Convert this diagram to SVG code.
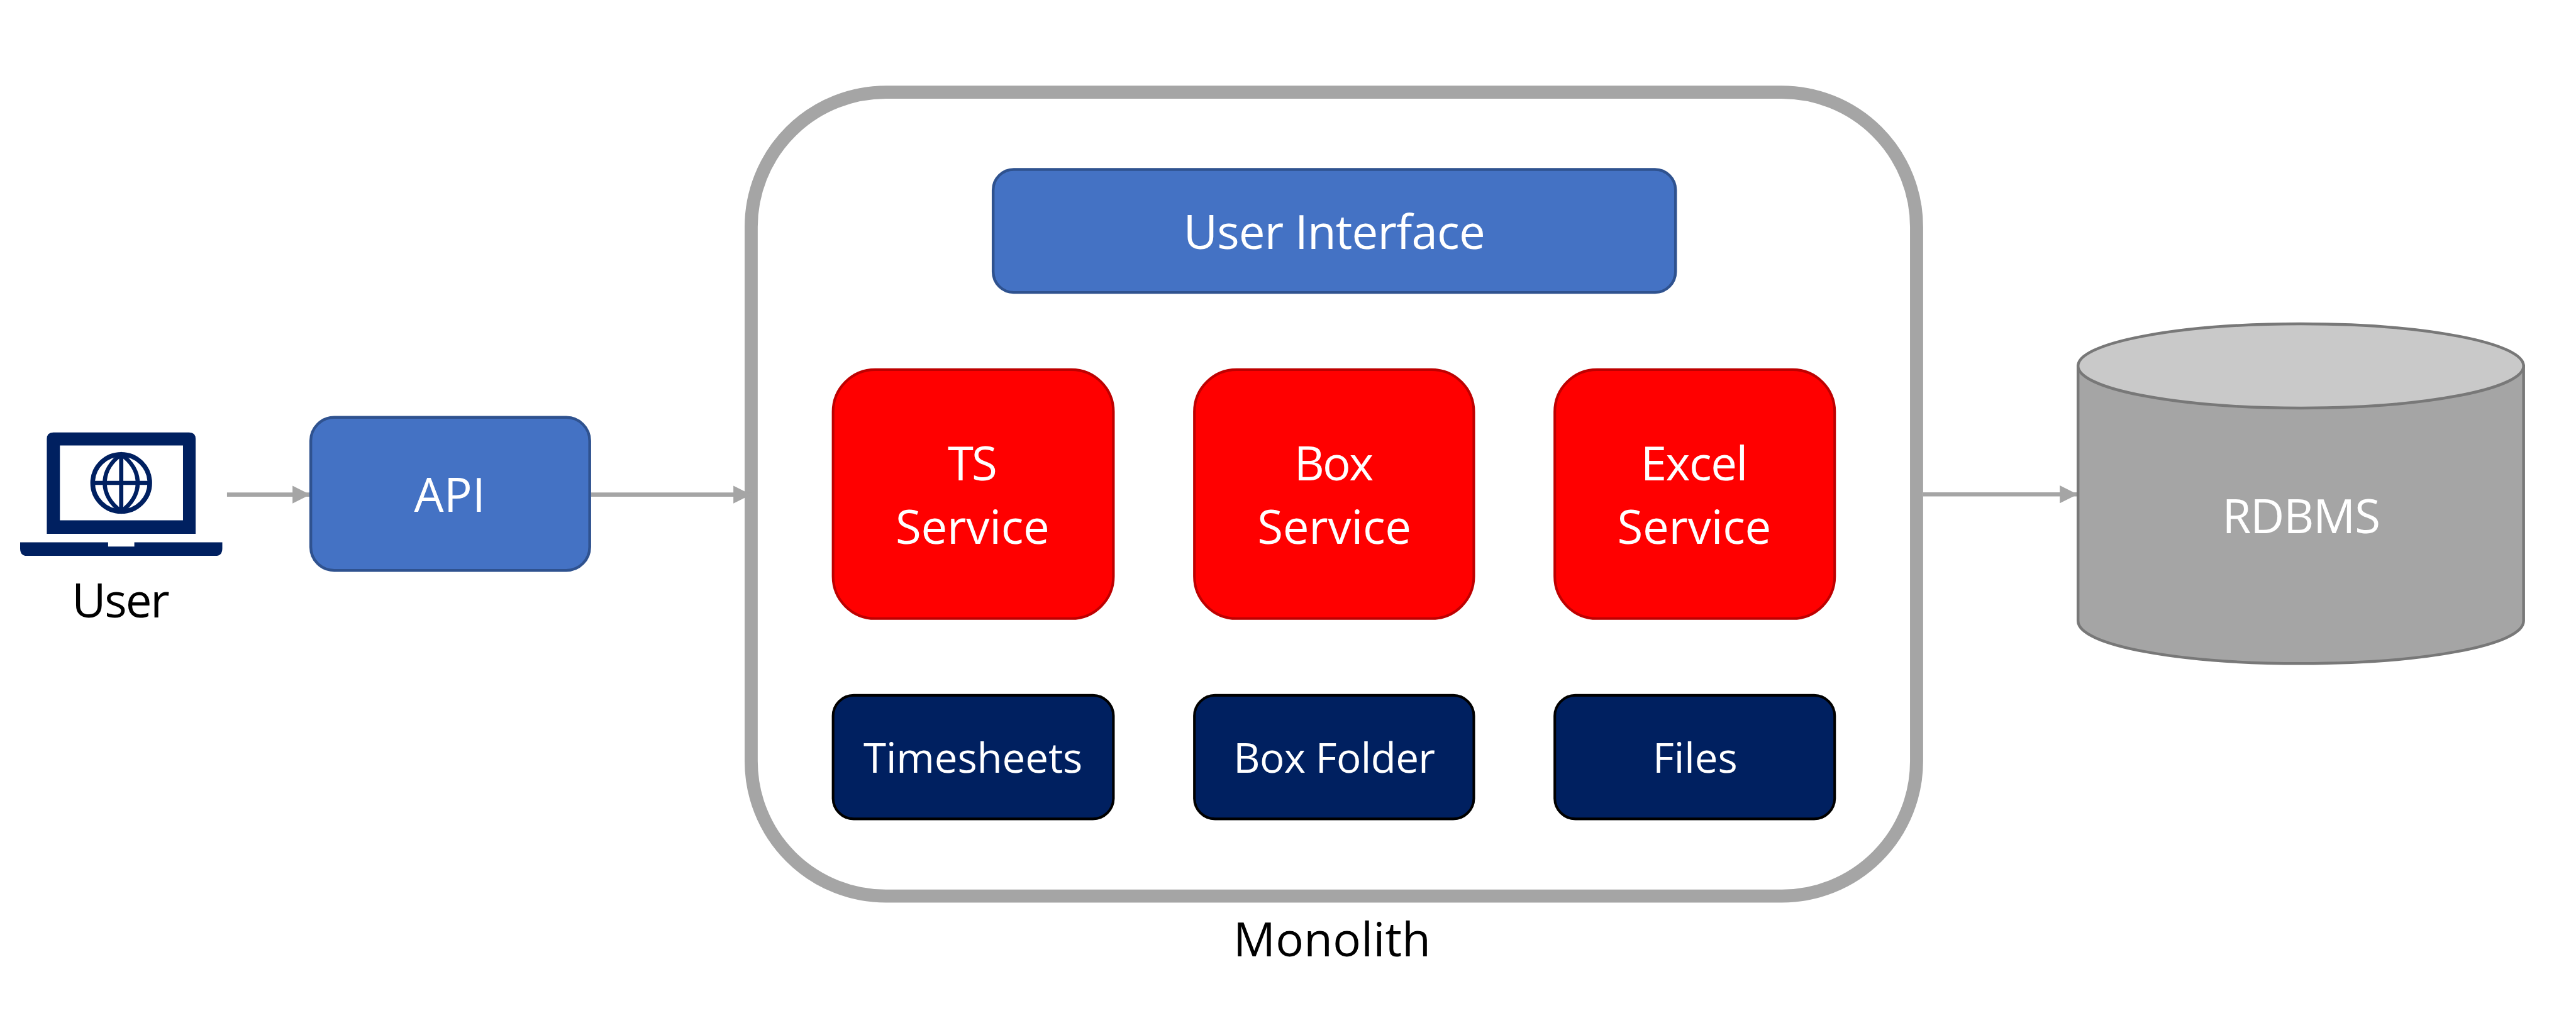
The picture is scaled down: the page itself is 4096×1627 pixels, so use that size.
<svg xmlns="http://www.w3.org/2000/svg" width="4096" height="1627" viewBox="0 0 4096 1627">
<defs>
<marker id="ah" markerUnits="userSpaceOnUse" markerWidth="38" markerHeight="38" refX="38" refY="19" orient="auto"><path d="M0 0L38 19L0 38Z" fill="#a5a5a5"/></marker>
</defs>
<style>
text{font-family:"Open Sans","Noto Sans","Liberation Sans",sans-serif;text-anchor:middle}
.w{fill:#fff}.k{fill:#000}
.l{font-size:100px}.s{font-size:88px}
.b{fill:#4472c4;stroke:#2f528f;stroke-width:6}
.r{fill:#f00;stroke:#be0000;stroke-width:5.5}
.n{fill:#002060;stroke:#000;stroke-width:5.5}
.c{stroke:#a5a5a5;stroke-width:9;fill:none;marker-end:url(#ah)}
</style>
<rect width="4096" height="1627" fill="#fff"/>
<g transform="scale(0.74419)">
<g id="monolith">
<rect x="1605" y="197" width="2490" height="1718" rx="288" ry="288" fill="#fff" stroke="#a5a5a5" stroke-width="28"/>
<text class="k l" x="2846" y="2044" textLength="422">Monolith</text>
</g>
<g id="connectors">
<path class="c" d="M485 1057H663"/>
<path class="c" d="M1263 1057H1605"/>
<path class="c" d="M4109 1056.500H4439"/>
</g>
<g id="user">
<path fill="#002060" d="M114 924H404Q418 924 418 938V1141H100V938Q100 924 114 924ZM128 952V1112H391V952Z" fill-rule="evenodd"/>
<g fill="none" stroke="#002060"><circle cx="259" cy="1032" r="61" stroke-width="10"/><path d="M259 971C212 1005 212 1059 259 1093C306 1059 306 1005 259 971ZM259 971V1093M198 1032H320" stroke-width="9"/></g>
<path fill="#002060" d="M43 1159H231V1168H287V1159H475V1172Q475 1188 460 1188H58Q43 1188 43 1172Z"/>
<text class="k l" x="258" y="1319" textLength="209">User</text>
</g>
<g id="api"><rect class="b" x="664" y="892" width="596" height="327" rx="50"/><text class="w l" x="961" y="1094" textLength="152">API</text></g>
<g id="ui"><rect class="b" x="2122" y="362" width="1458" height="263" rx="44"/><text class="w l" x="2851" y="532" textLength="645">User Interface</text></g>
<g id="ts"><rect class="r" x="1780" y="790" width="599" height="532" rx="90"/><text class="w l" x="2078" y="1026" textLength="106">TS</text><text class="w l" x="2078" y="1162" textLength="329">Service</text></g>
<g id="box"><rect class="r" x="2552" y="790" width="597" height="532" rx="90"/><text class="w l" x="2850" y="1026" textLength="170">Box</text><text class="w l" x="2851" y="1162" textLength="329">Service</text></g>
<g id="excel"><rect class="r" x="3322" y="790" width="598" height="532" rx="90"/><text class="w l" x="3620" y="1026" textLength="229">Excel</text><text class="w l" x="3620" y="1162" textLength="329">Service</text></g>
<g id="timesheets"><rect class="n" x="1780" y="1486" width="599" height="264" rx="44"/><text class="w s" x="2079" y="1652" textLength="468">Timesheets</text></g>
<g id="boxfolder"><rect class="n" x="2552" y="1486" width="597" height="264" rx="44"/><text class="w s" x="2851" y="1652" textLength="431">Box Folder</text></g>
<g id="files"><rect class="n" x="3322" y="1486" width="598" height="264" rx="44"/><text class="w s" x="3622" y="1652" textLength="181">Files</text></g>
<g id="rdbms">
<path d="M4440 782V1327C4440 1379 4653 1418 4916 1418S5392 1379 5392 1327V782Z" fill="#a5a5a5" stroke="#787878" stroke-width="6"/>
<ellipse cx="4916" cy="782" rx="476" ry="90" fill="#c9c9c9" stroke="#787878" stroke-width="6"/>
<text class="w l" x="4917" y="1139" textLength="338">RDBMS</text>
</g>
</g>
</svg>
